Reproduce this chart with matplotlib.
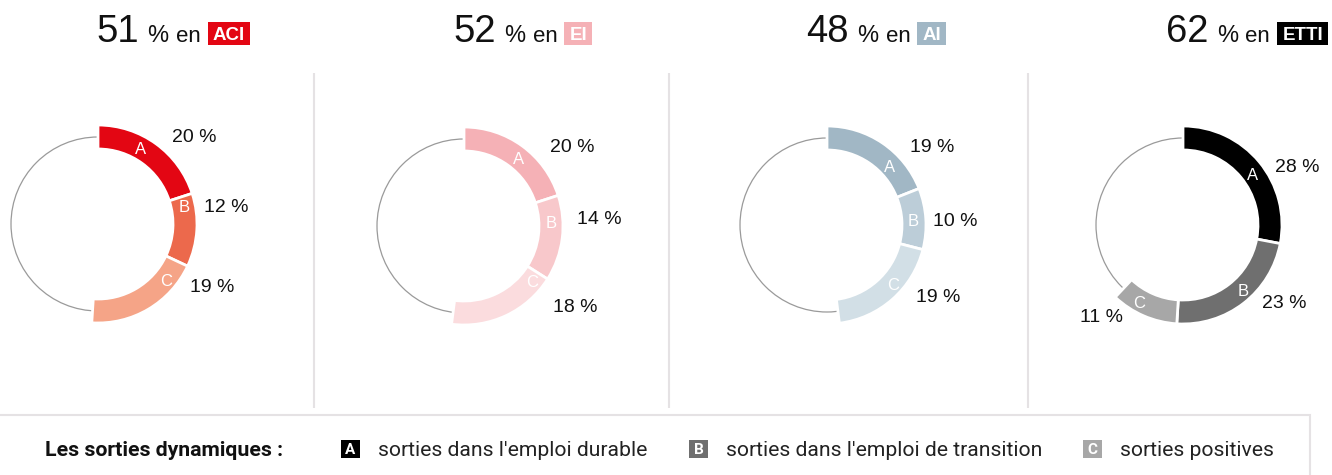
import matplotlib
matplotlib.use("Agg")
import matplotlib.pyplot as plt
from matplotlib.patches import Rectangle, Circle

# ---------------- data ----------------
programmes = ["ACI", "EI", "AI", "ETTI"]
totals = [51, 52, 48, 62]
seg_letters = ["A", "B", "C"]
values_aci = [20, 12, 19]
values_ei = [20, 14, 18]
values_ai = [19, 10, 19]
values_etti = [28, 23, 11]
legend_title = "Les sorties dynamiques :"
legend_labels = ["sorties dans l'emploi durable",
                 "sorties dans l'emploi de transition",
                 "sorties positives"]

# ---------------- styles / layout ----------------
colors = [
    ["#E30613", "#EC694C", "#F5A487"],
    ["#F5B1B6", "#F8C8CB", "#FBDCDE"],
    ["#A1B7C5", "#BCCDD8", "#D2DFE6"],
    ["#000000", "#6F6F6F", "#A7A7A7"],
]
badge_colors = ["#E30613", "#F5B1B6", "#A1B7C5", "#000000"]
legend_colors = ["#000000", "#6F6F6F", "#A7A7A7"]
centers = [(98, 224), (464, 226), (827, 225), (1183, 225)]
title_x = [96, 453, 806, 1166]
# value label offsets (px, y up) and letter offsets
val_off = [
    [(96, 87), (128, 16), (114, -63)],
    [(108, 78), (135, 6), (111, -82)],
    [(105, 77), (128, 3), (111, -72)],
    [(114, 57), (101, -78), (-81, -93)],
]
let_off = [
    [(43, 75), (86, 16), (68, -57)],
    [(55, 66), (87, 2), (68, -57)],
    [(63, 58), (86, 4), (66, -61)],
    [(70, 50), (60, -67), (-44, -78)],
]
all_values = [values_aci, values_ei, values_ai, values_etti]

W, H = 1332, 475
R_OUT, RING_W, R_GREY = 99, 24, 87
SEP = "#E5E2E4"
FONT = ["Liberation Sans", "DejaVu Sans"]
LEGFONT = ["Roboto", "DejaVu Sans"]

plt.rcParams["font.family"] = FONT
fig = plt.figure(figsize=(W / 100, H / 100), dpi=100)
bg = fig.add_axes([0, 0, 1, 1])
bg.set_xlim(0, W)
bg.set_ylim(H, 0)
bg.axis("off")

# separators
for xs in [314, 669, 1028]:
    bg.plot([xs, xs], [73, 408], color=SEP, lw=1.5, solid_capstyle="butt")

# legend box
bg.add_patch(Rectangle((-5, 415), 1315, 80, fill=False, edgecolor=SEP, lw=1.5))

renderer = fig.canvas.get_renderer()


def right_edge(t):
    return t.get_window_extent(renderer).x1


# titles
for i, prog in enumerate(programmes):
    x = title_x[i]
    t = bg.text(x, 42, str(totals[i]), fontsize=27.5, ha="left", va="baseline",
                color="#111111")
    x = right_edge(t) + 9
    t = bg.text(x, 42, "%", fontsize=17, ha="left", va="baseline", color="#111111")
    x = right_edge(t) + 7
    t = bg.text(x, 42, "en", fontsize=16, ha="left", va="baseline", color="#111111")
    x = right_edge(t) + 7
    tb = bg.text(x + 5, 40, prog, fontsize=13.5, fontweight="bold", ha="left",
                 va="baseline", color="white", zorder=3)
    x1 = right_edge(tb) + 5
    bg.add_patch(Rectangle((x, 21.5), x1 - x, 23.5, facecolor=badge_colors[i],
                           edgecolor="none", zorder=2))

# donuts
S = 130
for i, vals in enumerate(all_values):
    cx, cy = centers[i]
    ax = fig.add_axes([(cx - S) / W, (H - cy - S) / H, 2 * S / W, 2 * S / H])
    ax.add_patch(Circle((0, 0), R_GREY, fill=False, edgecolor="#9A9A9A", lw=0.9,
                        zorder=0.5))
    rest = 100 - sum(vals)
    wedges, _ = ax.pie(vals + [rest], radius=R_OUT, startangle=90,
                       counterclock=False, colors=colors[i] + ["none"],
                       wedgeprops=dict(width=RING_W, edgecolor="white", linewidth=2))
    wedges[-1].set_edgecolor("none")
    ax.set_xlim(-S, S)
    ax.set_ylim(-S, S)
    ax.set_aspect("equal")
    ax.axis("off")
    for j, v in enumerate(vals):
        dx, dy = val_off[i][j]
        ax.text(dx, dy, f"{v} %", fontsize=14, ha="center", va="center",
                color="#111111")
        lx, ly = let_off[i][j]
        ax.text(lx, ly, seg_letters[j], fontsize=12, ha="center", va="center",
                color="white")

# legend
bg.text(45, 450, legend_title, fontsize=15.3, fontweight="bold", ha="left",
        va="center", family=LEGFONT, color="#111111")
leg_sq_x = [341, 689, 1083]
for k in range(3):
    x0 = leg_sq_x[k]
    bg.add_patch(Rectangle((x0, 440), 19, 18, facecolor=legend_colors[k],
                           edgecolor="none"))
    bg.text(x0 + 9.5, 449.5, seg_letters[k], fontsize=11, fontweight="bold",
            ha="center", va="center", color="white", family=LEGFONT)
    bg.text(x0 + 37, 450, legend_labels[k], fontsize=15.2, ha="left", va="center",
            family=LEGFONT, color="#222222")

fig.savefig("out.png", dpi=100)
